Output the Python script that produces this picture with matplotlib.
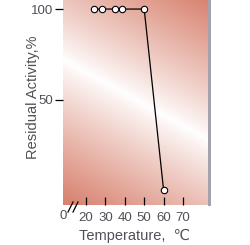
import numpy as np
import matplotlib
matplotlib.use("Agg")
import matplotlib.pyplot as plt

plt.rcParams['font.family'] = ['Liberation Sans', 'DejaVu Sans']

temperature = [24, 28, 35, 38.5, 50, 60]
activity = [100, 100, 100, 100, 100, 0]
xticks = [20, 30, 40, 50, 60, 70]
yticks = [50, 100]

W, H = 251, 245
fig = plt.figure(figsize=(W / 100, H / 100), dpi=100)
fig.patch.set_facecolor('white')

L, R, T, B = 63, 208, 0, 205
ax = fig.add_axes([L / W, (H - B) / H, (R - L) / W, (B - T) / H])

# shadow on right
sh = fig.add_axes([R / W, (H - B - 1) / H, 3 / W, (B - T + 1) / H])
sh.set_facecolor('#a3a3ab')
sh.set_xticks([]); sh.set_yticks([])
for s in sh.spines.values():
    s.set_visible(False)

xmin, xmax = 8.14, 82.9
ymin, ymax = -8.3, 105.0
ax.set_xlim(xmin, xmax)
ax.set_ylim(ymin, ymax)

# gradient background (pixel-based)
nx, ny = R - L, B - T
px = np.arange(nx)[None, :] + L
py = np.arange(ny)[:, None] + T
d = (py - (60 + 0.55 * (px - L))) / np.sqrt(1 + 0.55 ** 2)
f = np.clip(np.abs(d) / 130.0, 0, 1) ** 0.9
white = np.array([1.0, 1.0, 1.0])
salmon = np.array([214, 124, 104]) / 255.0
img = white[None, None, :] * (1 - f[..., None]) + salmon[None, None, :] * f[..., None]
ax.imshow(img, extent=[xmin, xmax, ymin, ymax], aspect='auto', origin='upper', zorder=0)

ax.plot(temperature, activity, color='black', lw=0.9, zorder=3,
        marker='o', markersize=4.6, markerfacecolor='white',
        markeredgecolor='black', markeredgewidth=0.8, clip_on=False)

for s in ax.spines.values():
    s.set_visible(False)

txtc = '#505058'
ax.set_xticks(xticks)
ax.set_xticklabels([str(t) for t in xticks])
ax.set_yticks(yticks)
ax.set_yticklabels([str(t) for t in yticks])
ax.tick_params(axis='x', direction='in', length=6, width=0.9, color='black',
               labelsize=9.5, labelcolor=txtc, pad=5)
ax.tick_params(axis='y', direction='out', length=6, width=0.9, color='black',
               labelsize=9.5, labelcolor=txtc, pad=1)

ax.text(0, -0.025, '0', transform=ax.transAxes, ha='center', va='top',
        fontsize=9.5, color=txtc)

# axis break marks
for x0 in [68, 73]:
    fig.add_artist(plt.Line2D([x0 / W, (x0 + 5) / W], [(H - 212) / H, (H - 202) / H],
                              color='black', lw=0.9))

fig.text(135 / W, 1 - 236 / H, 'Temperature,  \u2103', ha='center', va='center',
         fontsize=10.5, color=txtc)
fig.text(33 / W, 1 - 97 / H, 'Residual Activity,%', ha='center', va='center',
         rotation=90, fontsize=10.5, color=txtc)

fig.savefig('out.png', dpi=100)
